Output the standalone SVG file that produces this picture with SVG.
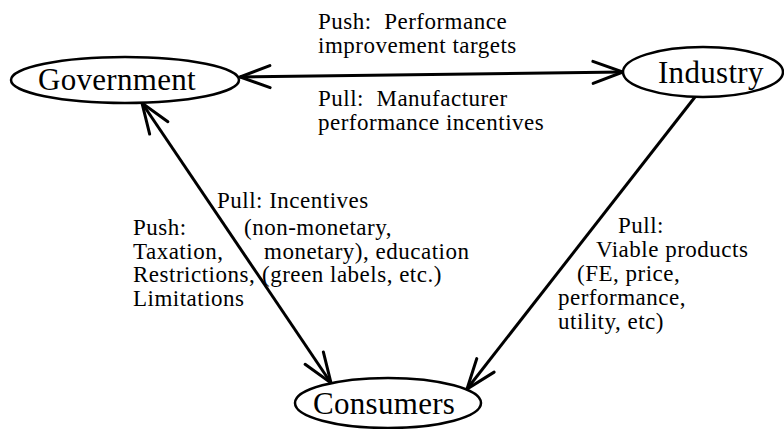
<svg xmlns="http://www.w3.org/2000/svg" width="784" height="429" viewBox="0 0 784 429">
<style>
  .node ellipse { fill: #fff; stroke: #000; stroke-width: 2.5; }
  .nt { font-family: "Liberation Serif", "Times New Roman", serif; font-size: 31px; letter-spacing: 0.3px; fill: #000; }
  .conn path { fill: none; stroke: #000; stroke-width: 3; }
  .lbl { font-family: "Liberation Serif", "Times New Roman", serif; font-size: 23px; letter-spacing: 0.5px; fill: #000; }
</style>
<defs>
  <marker id="arrow" markerUnits="userSpaceOnUse" markerWidth="34" markerHeight="26" refX="31" refY="12" orient="auto-start-reverse" overflow="visible">
    <path d="M1,1 L31,12 L1,23" fill="none" stroke="#000" stroke-width="3" stroke-linecap="round" stroke-linejoin="miter"/>
  </marker>
</defs>
<rect width="784" height="429" fill="#fff"/>

<g id="connectors" class="conn">
  <path id="gov-ind" d="M240,77 L623,72" marker-start="url(#arrow)" marker-end="url(#arrow)"/>
  <path id="gov-con" d="M142,103 L331,383" marker-start="url(#arrow)" marker-end="url(#arrow)"/>
  <path id="ind-con" d="M695,97 L467,389" marker-end="url(#arrow)"/>
</g>

<g id="government" class="node">
  <ellipse cx="125" cy="80" rx="114" ry="23"/>
  <text class="nt" x="38" y="90">Government</text>
</g>
<g id="industry" class="node">
  <ellipse cx="703" cy="72" rx="80" ry="25"/>
  <text class="nt" x="658" y="83">Industry</text>
</g>
<g id="consumers" class="node">
  <ellipse cx="388" cy="403" rx="93" ry="25"/>
  <text class="nt" x="313" y="414">Consumers</text>
</g>

<g id="labels">
  <text class="lbl" x="318" y="29" xml:space="preserve">Push:  Performance</text>
  <text class="lbl" x="318" y="53">improvement targets</text>
  <text class="lbl" x="318" y="106" xml:space="preserve">Pull:  Manufacturer</text>
  <text class="lbl" x="318" y="130">performance incentives</text>

  <text class="lbl" x="133" y="235">Push:</text>
  <text class="lbl" x="133" y="259">Taxation,</text>
  <text class="lbl" x="133" y="282">Restrictions,</text>
  <text class="lbl" x="133" y="306">Limitations</text>

  <text class="lbl" x="217" y="208">Pull: Incentives</text>
  <text class="lbl" x="244" y="235">(non-monetary,</text>
  <text class="lbl" x="264" y="259">monetary), education</text>
  <text class="lbl" x="262" y="282">(green labels, etc.)</text>

  <text class="lbl" x="618" y="233">Pull:</text>
  <text class="lbl" x="596" y="257">Viable products</text>
  <text class="lbl" x="577" y="281">(FE, price,</text>
  <text class="lbl" x="558" y="305">performance,</text>
  <text class="lbl" x="558" y="329">utility, etc)</text>
</g>
</svg>
